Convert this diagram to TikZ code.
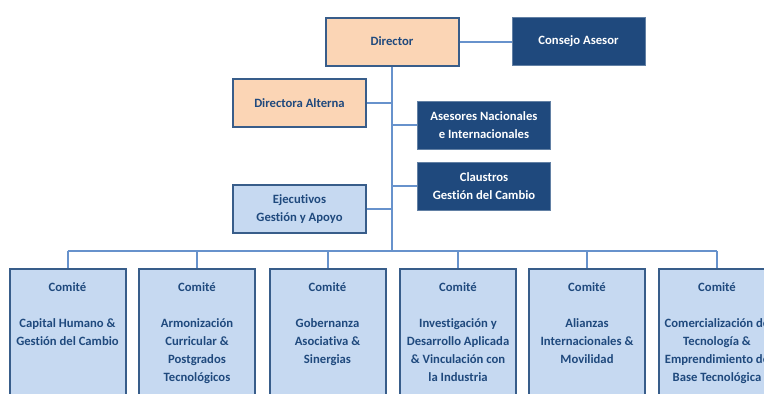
\documentclass[tikz,border=0pt]{standalone}
\usepackage{fontspec}
\setmainfont{Carlito}[Ligatures=NoCommon]
\usepackage{tikz}
\definecolor{navy}{RGB}{31,73,125}
\definecolor{peach}{RGB}{251,213,181}
\definecolor{paleblue}{RGB}{198,217,241}
\definecolor{edgeblue}{RGB}{56,93,138}
\definecolor{linkblue}{RGB}{103,146,204}

\begin{document}
\begin{tikzpicture}[
        x=0.75pt, y=-0.75pt,
        box/.style={draw=edgeblue, line width=1.5pt, align=center, text=navy,
            font=\bfseries\fontsize{9.5}{13.5}\selectfont,
            minimum width=99.75pt, minimum height=36pt, inner sep=0pt},
        lead/.style={box, fill=peach},
        staff/.style={box, fill=paleblue},
        council/.style={box, fill=navy, draw=navy!70, line width=0.75pt, text=white},
        committee/.style={staff, minimum width=87pt, minimum height=105pt, anchor=north},
        comtext/.style={align=center, text=navy, inner sep=0pt, anchor=north,
            font=\bfseries\fontsize{9.5}{13.5}\selectfont},
        link/.style={draw=linkblue, line width=1.5pt}
    ]
    \useasboundingbox (0,0) rectangle (764,393);
    \clip (0,0) rectangle (764,393);

    \node[lead] (director) at (392,41.5) {Director};
    \node[council] (consejo) at (578.5,41.5) {Consejo Asesor};
    \node[lead] (alterna) at (299.5,103) {Directora Alterna};
    \node[council] (asesores) at (484,125) {Asesores Nacionales\\e Internacionales};
    \node[council] (claustros) at (484,186) {Claustros\\Gestión del Cambio};
    \node[staff] (ejecutivos) at (299.5,209) {Ejecutivos\\Gestión y Apoyo};
    \coordinate (hub) at (392,251);

    \foreach \i/\x/\txt in {
        1/67.5/{Capital Humano \&\\Gestión del Cambio},
        2/197/{Armonización\\Curricular \&\\Postgrados\\Tecnológicos},
        3/327.5/{Gobernanza\\Asociativa \&\\Sinergias},
        4/458/{Investigación y\\Desarrollo Aplicada\\\& Vinculación con\\la Industria},
        5/587/{Alianzas\\Internacionales \&\\Movilidad},
        6/717/{Comercialización de\\Tecnología \&\\Emprendimiento de\\Base Tecnológica}} {
        \node[committee] (c\i) at (\x,268) {};
        \node[comtext] (t\i) at ([yshift=-11pt]c\i.north) {Comité\\[13.5pt]\txt};
        \draw[link] (c\i.north) -- (c\i.north |- hub);
    }

    \draw[link] (director) -- (consejo);
    \draw[link] (director) -- (hub);
    \draw[link] (alterna) -- (alterna -| hub);
    \draw[link] (asesores) -- (asesores -| hub);
    \draw[link] (claustros) -- (claustros -| hub);
    \draw[link] (ejecutivos) -- (ejecutivos -| hub);
    \draw[link] (c1.north |- hub) -- (c6.north |- hub);
\end{tikzpicture}
\end{document}
